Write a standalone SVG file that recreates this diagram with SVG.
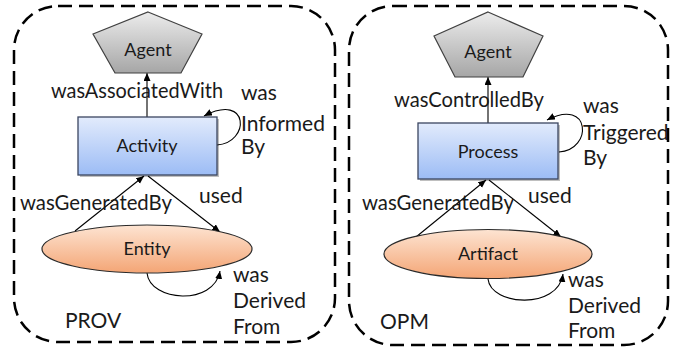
<svg xmlns="http://www.w3.org/2000/svg" width="682" height="350" viewBox="0 0 682 350">
<defs>
<linearGradient id="gGrey" x1="0" y1="0" x2="0" y2="1"><stop offset="0" stop-color="#ececec"/><stop offset="1" stop-color="#a6a6a6"/></linearGradient>
<linearGradient id="gBlue" x1="0" y1="0" x2="0" y2="1"><stop offset="0" stop-color="#e2ebfc"/><stop offset="1" stop-color="#9cbcf5"/></linearGradient>
<linearGradient id="gOrange" x1="0" y1="0" x2="0" y2="1"><stop offset="0" stop-color="#fde4d2"/><stop offset="1" stop-color="#f4a575"/></linearGradient>
<marker id="arr" markerWidth="9" markerHeight="8" refX="8" refY="3.5" orient="auto" markerUnits="userSpaceOnUse"><path d="M0,0 L8,3.5 L0,7 z" fill="#000"/></marker>
<style>
.panel{fill:none;stroke:#000;stroke-width:2.5;stroke-dasharray:14 7}
.agent{fill:url(#gGrey);stroke:#404040;stroke-width:1.2}
.proc{fill:url(#gBlue);stroke:#3b4660;stroke-width:1.3}
.shadow{fill:#000;opacity:0.25}
.ent{fill:url(#gOrange);stroke:#2a2a2a;stroke-width:1.2}
.edge{fill:none;stroke:#000;stroke-width:1.1;marker-end:url(#arr)}
text{font-family:Lato,"Liberation Sans",sans-serif;fill:#1a1a1a}
.node{font-size:18px;text-anchor:middle}
.lbl{font-size:21px}
</style>
</defs>
<rect class="panel" x="14" y="6" width="321" height="336" rx="44" ry="44"/>
<rect class="panel" x="349" y="6" width="319" height="339" rx="44" ry="44"/>
<g id="connectors">
<line class="edge" x1="147" y1="117" x2="147" y2="73"/>
<line class="edge" x1="75" y1="231" x2="144" y2="176"/>
<line class="edge" x1="148" y1="176" x2="220" y2="232"/>
<path class="edge" d="M217,145 C250,143 250,92 204,116"/>
<path class="edge" d="M147,273 C150,302 214,306 220,271"/>
<line class="edge" x1="488" y1="123" x2="488" y2="77"/>
<line class="edge" x1="416" y1="237" x2="486" y2="180"/>
<line class="edge" x1="489" y1="180" x2="561" y2="237"/>
<path class="edge" d="M559,152 C593,150 591,97 547,120"/>
<path class="edge" d="M488,279 C491,306 558,310 563,274"/>
</g>
<g id="agent1"><polygon class="agent" points="148,12 202,34 181,73 115,73 93,34"/><text class="node" x="148" y="56">Agent</text></g>
<g id="activity"><rect class="shadow" x="80" y="119" width="139" height="58"/><rect class="proc" x="78" y="117" width="139" height="58"/><text class="node" x="147" y="152">Activity</text></g>
<g id="entity"><ellipse class="ent" cx="147" cy="249" rx="105" ry="24"/><text class="node" x="147" y="255">Entity</text></g>
<g id="agent2"><polygon class="agent" points="488,12 543,36 523,77 455,77 434,36"/><text class="node" x="488" y="58">Agent</text></g>
<g id="process"><rect class="shadow" x="420" y="125" width="140" height="56"/><rect class="proc" x="418" y="123" width="140" height="56"/><text class="node" x="488" y="158">Process</text></g>
<g id="artifact"><ellipse class="ent" cx="488" cy="254" rx="104" ry="24.5"/><text class="node" x="488" y="260">Artifact</text></g>
<g id="labels">
<text class="lbl" x="51" y="98" textLength="172" lengthAdjust="spacingAndGlyphs">wasAssociatedWith</text>
<text class="lbl" x="241" y="100">was</text>
<text class="lbl" x="241" y="131">Informed</text>
<text class="lbl" x="241" y="154">By</text>
<text class="lbl" x="20" y="210" textLength="152" lengthAdjust="spacingAndGlyphs">wasGeneratedBy</text>
<text class="lbl" x="199" y="203">used</text>
<text class="lbl" x="233" y="282">was</text>
<text class="lbl" x="233" y="308">Derived</text>
<text class="lbl" x="233" y="334">From</text>
<text class="lbl" x="65" y="328">PROV</text>
<text class="lbl" x="394" y="107" textLength="150" lengthAdjust="spacingAndGlyphs">wasControlledBy</text>
<text class="lbl" x="583" y="113">was</text>
<text class="lbl" x="583" y="140">Triggered</text>
<text class="lbl" x="583" y="165">By</text>
<text class="lbl" x="362" y="210" textLength="152" lengthAdjust="spacingAndGlyphs">wasGeneratedBy</text>
<text class="lbl" x="528" y="203">used</text>
<text class="lbl" x="568" y="287">was</text>
<text class="lbl" x="568" y="313">Derived</text>
<text class="lbl" x="568" y="338">From</text>
<text class="lbl" x="380" y="329">OPM</text>
</g>
</svg>
